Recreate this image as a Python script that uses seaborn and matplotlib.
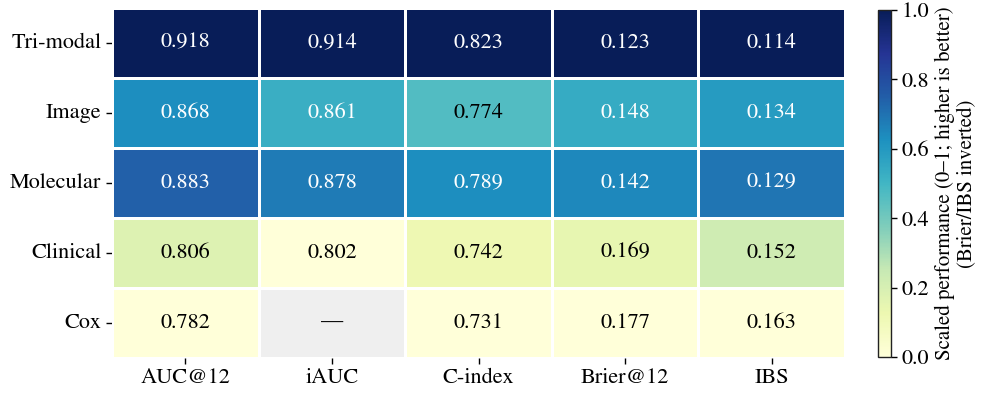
import numpy as np
import pandas as pd
import matplotlib
matplotlib.use("Agg")
import matplotlib.pyplot as plt
import seaborn as sns

# Models (rows) and evaluation metrics (columns)
models = ["Tri-modal", "Image", "Molecular", "Clinical", "Cox"]
metrics = ["AUC@12", "iAUC", "C-index", "Brier@12", "IBS"]

auc12 = [0.918, 0.868, 0.883, 0.806, 0.782]
iauc = [0.914, 0.861, 0.878, 0.802, np.nan]
cindex = [0.823, 0.774, 0.789, 0.742, 0.731]
brier12 = [0.123, 0.148, 0.142, 0.169, 0.177]
ibs = [0.114, 0.134, 0.129, 0.152, 0.163]

lower_is_better = ["Brier@12", "IBS"]

raw = pd.DataFrame(
    {"AUC@12": auc12, "iAUC": iauc, "C-index": cindex,
     "Brier@12": brier12, "IBS": ibs},
    index=models,
)[metrics]

# Min-max scale each metric; invert those where lower is better
scaled = (raw - raw.min()) / (raw.max() - raw.min())
for m in lower_is_better:
    scaled[m] = 1.0 - scaled[m]

labels = raw.map(lambda v: "—" if pd.isna(v) else f"{v:.3f}")

sns.set_style("white")
plt.rcParams["font.family"] = ["STIXGeneral", "Liberation Serif", "DejaVu Serif"]
plt.rcParams["mathtext.fontset"] = "stix"
plt.rcParams["text.color"] = "black"
plt.rcParams["xtick.color"] = "black"
plt.rcParams["ytick.color"] = "black"
plt.rcParams["axes.labelcolor"] = "black"
FS = 16

fig = plt.figure(figsize=(9.95, 3.94), dpi=100)
ax = fig.add_axes([0.1126, 0.0914, 0.7367, 0.889])
cax = fig.add_axes([0.8824, 0.094, 0.0131, 0.881])

ax.set_facecolor("#efefef")
sns.heatmap(
    scaled, ax=ax, cbar_ax=cax, cmap="YlGnBu", vmin=0, vmax=1,
    annot=labels.values, fmt="", annot_kws={"fontsize": FS},
    linewidths=1, linecolor="white",
    mask=raw.isna(),
    cbar_kws={"label": "Scaled performance (0–1; higher is better)\n(Brier/IBS inverted)"},
)
# dark annotations in pure black
for t in ax.texts:
    if t.get_color() != "w":
        t.set_color("black")
# the missing cell shows a dash on the grey background
for (i, j) in zip(*np.where(raw.isna().values)):
    ax.text(j + 0.5, i + 0.5, "—", ha="center", va="center", fontsize=FS, color="black")

ax.set_xlabel("")
ax.set_ylabel("")
ax.tick_params(axis="both", which="both", bottom=True, left=True, length=4,
               width=1, labelsize=FS, color="black")
ax.set_yticklabels(models, rotation=0)
ax.set_xticklabels(metrics, rotation=0)

cax.tick_params(right=True, labelsize=FS, length=4, width=1, color="black")
cax.yaxis.label.set_size(15)
cbar = ax.collections[0].colorbar
cbar.outline.set_visible(True)
cbar.outline.set_edgecolor("#222222")
cbar.outline.set_linewidth(1)

fig.savefig("out.png", dpi=100)
